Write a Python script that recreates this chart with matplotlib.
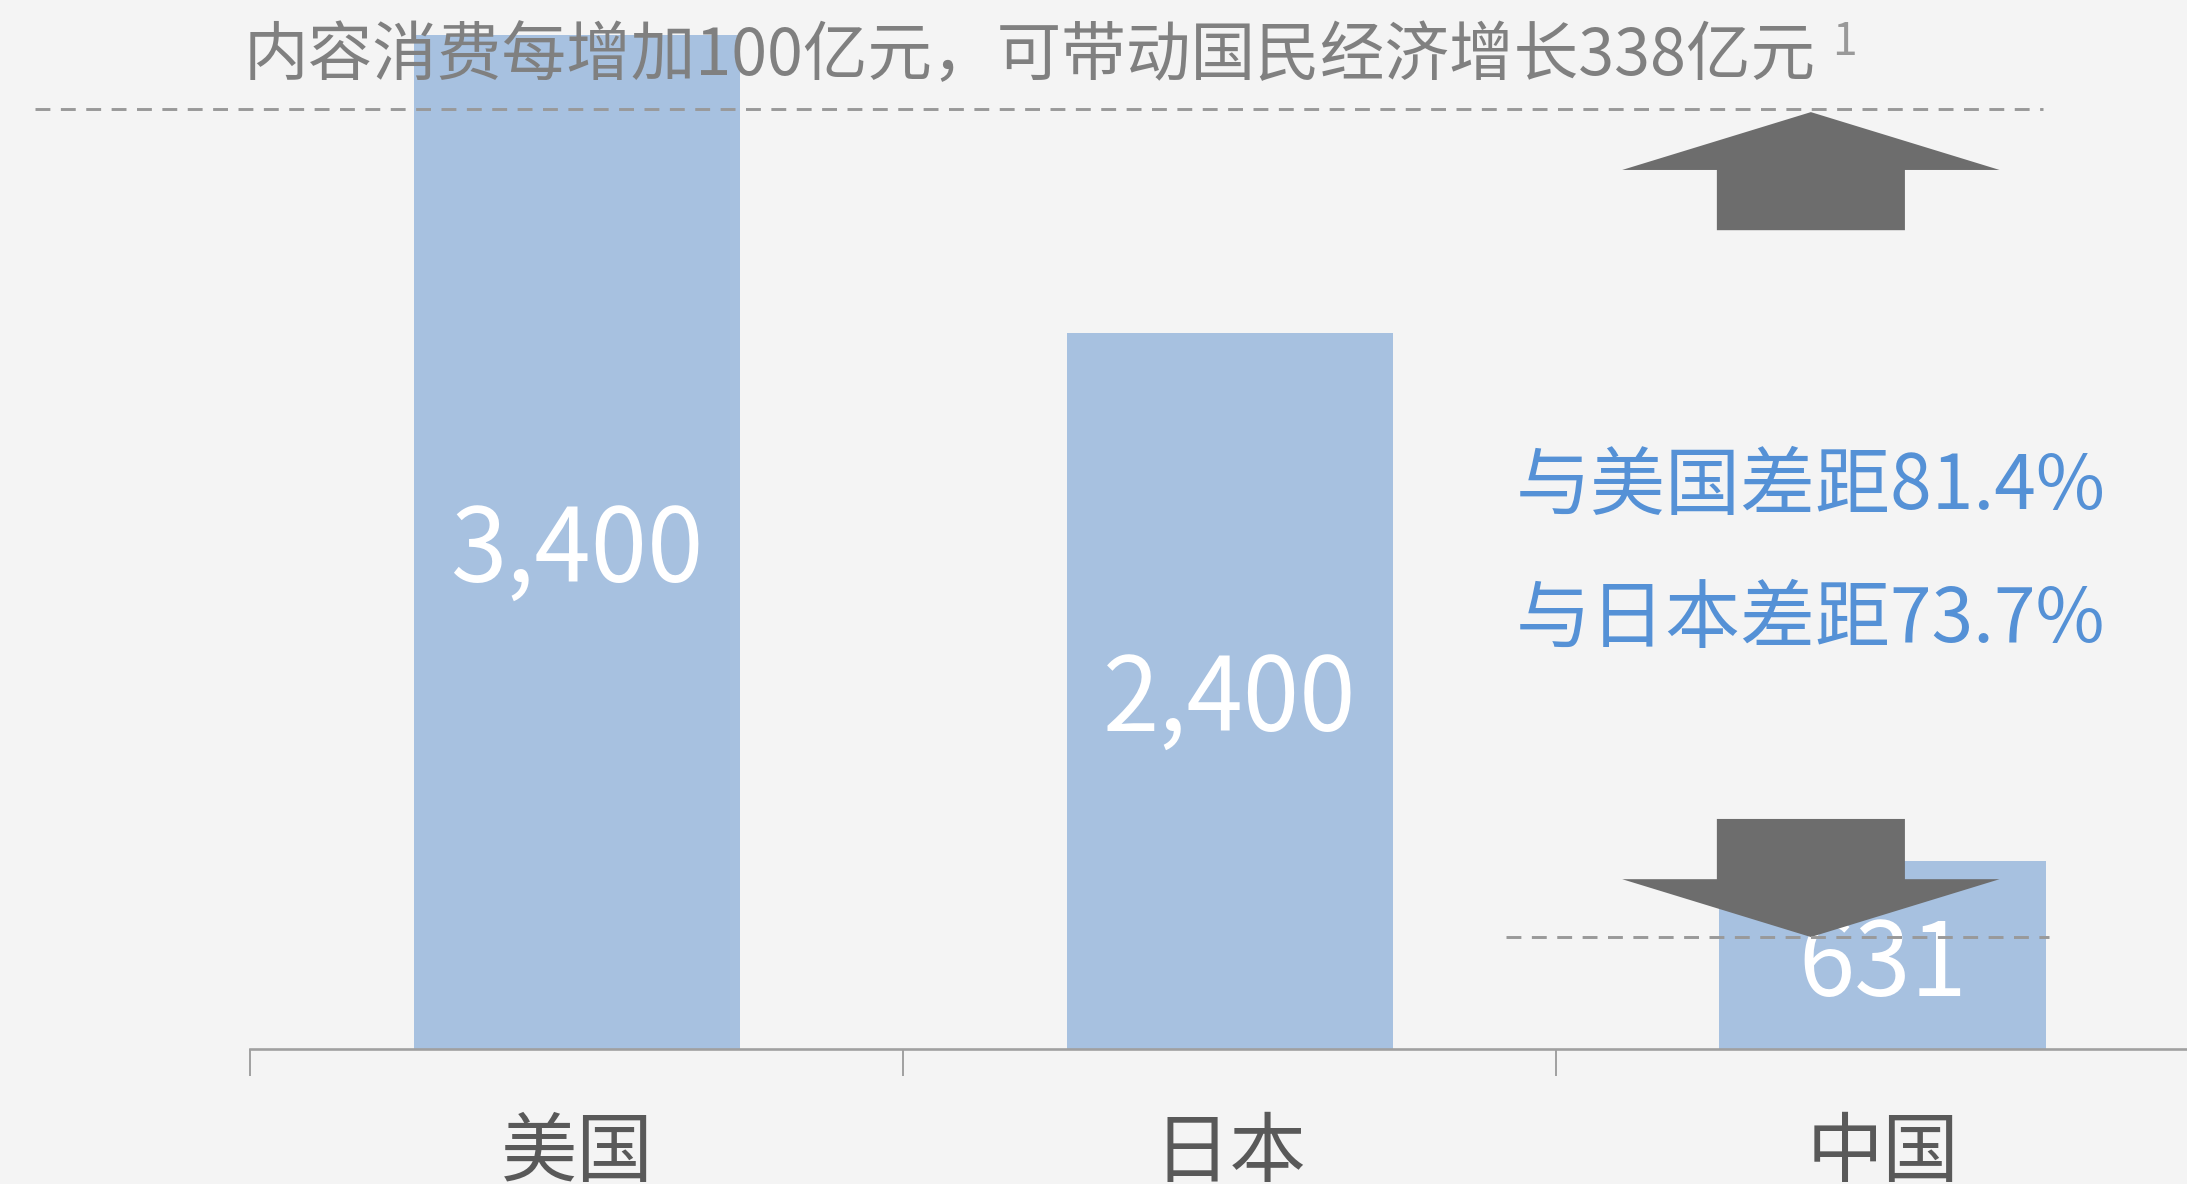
import matplotlib
matplotlib.use("Agg")
import matplotlib.pyplot as plt
from matplotlib.patches import FancyArrow

plt.rcParams['font.family'] = ['Noto Sans CJK SC', 'DejaVu Sans']

# ---- data ----
categories = ["美国", "日本", "中国"]
values = [3400, 2400, 631]
title_text = "内容消费每增加100亿元，可带动国民经济增长338亿元"
title_note = "1"
gap_labels = ["与美国差距81.4%", "与日本差距73.7%"]

BG = "#f4f4f4"
BAR = "#a7c1e0"
ARROW = "#6d6d6d"
AXIS = "#a0a0a0"
BLUE = "#5591d6"

W, H = 2187, 1184
fig = plt.figure(figsize=(W / 100, H / 100), dpi=100)
fig.patch.set_facecolor(BG)

ax_left = 250.3 / W
ax_bottom = 135 / H
ax = fig.add_axes([ax_left, ax_bottom, 1 - ax_left, 1 - ax_bottom])
ax.set_facecolor(BG)

x = list(range(len(categories)))
ax.bar(x, values, width=0.5, color=BAR, zorder=1)
ax.set_xlim(-0.5, 2.466)
ax.set_ylim(0, 3518)

# value labels
for xi, v in zip(x, values):
    ax.text(xi, v / 2, f"{v:,}", ha="center", va="center_baseline",
            fontsize=73, color="white", zorder=2)

# spines
for s in ["top", "right", "left"]:
    ax.spines[s].set_visible(False)
ax.spines["bottom"].set_color(AXIS)
ax.spines["bottom"].set_linewidth(1.9)
ax.set_yticks([])

# ticks at category boundaries, labels at centers
ax.set_xticks([i - 0.5 for i in x])
ax.set_xticklabels([])
ax.tick_params(axis="x", which="major", length=19.5, width=1.4, color=AXIS)
ax.set_xticks(x, minor=True)
ax.set_xticklabels(categories, minor=True)
ax.tick_params(axis="x", which="minor", length=0, pad=47, labelsize=55,
               labelcolor="#595959")

# reference lines
top_ref = 3152
low_ref = 375.5
dash = (0, (5.1, 3.6))
ax.plot([-0.830, 2.246], [top_ref, top_ref], color="#999999", lw=2.1,
        linestyle=dash, clip_on=False, zorder=4)
ax.plot([1.423, 2.255], [low_ref, low_ref], color="#999999", lw=2.1,
        linestyle=dash, clip_on=False, zorder=4)

# arrows
acx = 1.890
alen = 396
hlen = 194
ax.add_patch(FancyArrow(acx, top_ref - 10 - alen, 0, alen, width=0.288,
                        head_width=0.578, head_length=hlen,
                        length_includes_head=True, color=ARROW, lw=0,
                        zorder=3))
ax.add_patch(FancyArrow(acx, low_ref + alen, 0, -alen, width=0.288,
                        head_width=0.578, head_length=hlen,
                        length_includes_head=True, color=ARROW, lw=0,
                        zorder=3))

# gap annotations
ax.text(acx, 1911, gap_labels[0], ha="center", va="center_baseline",
        fontsize=54, color=BLUE, zorder=5)
ax.text(acx, 1465, gap_labels[1], ha="center", va="center_baseline",
        fontsize=54, color=BLUE, zorder=5)

# title
fig.text(244 / W, 1 - 57 / H, title_text, ha="left", va="center",
         fontsize=46.5, color="#808080", style="italic", zorder=10)
fig.text(1832 / W, 1 - 42 / H, title_note, ha="left", va="center",
         fontsize=32, color="#999999", style="italic", zorder=10)

fig.savefig("out.png", dpi=100, facecolor=BG)
